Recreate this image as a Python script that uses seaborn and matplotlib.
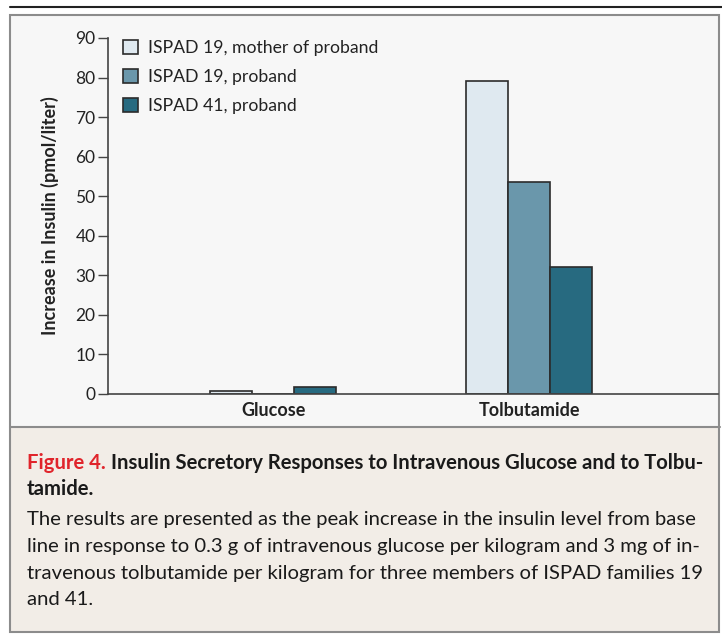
import numpy as np
import pandas as pd
import matplotlib
matplotlib.use('Agg')
import matplotlib.pyplot as plt
import seaborn as sns
from matplotlib.patches import Rectangle
from matplotlib.lines import Line2D

# Data
stimuli = ['Glucose', 'Tolbutamide']
subjects = ['ISPAD 19, mother of proband', 'ISPAD 19, proband', 'ISPAD 41, proband']
mother_19 = [0.8, 79.2]
proband_19 = [0.0, 53.6]
proband_41 = [1.8, 32.1]
colors = ['#dfe9f0', '#6a97ab', '#276a80']
yticks = [0, 10, 20, 30, 40, 50, 60, 70, 80, 90]

df = pd.DataFrame({
    'stimulus': stimuli * 3,
    'subject': [subjects[0]] * 2 + [subjects[1]] * 2 + [subjects[2]] * 2,
    'value': mother_19 + proband_19 + proband_41,
})

sns.set_style('white')
plt.rcParams['font.family'] = ['Lato', 'DejaVu Sans']

W, H = 722, 634
fig = plt.figure(figsize=(W / 100, H / 100), dpi=100)
fig.patch.set_facecolor('white')

# panel backgrounds
fig.patches.append(Rectangle((10 / W, (H - 427) / H), 710 / W, 412 / H,
                             transform=fig.transFigure, facecolor='#f7f7f7',
                             edgecolor='none', zorder=0))
fig.patches.append(Rectangle((10 / W, (H - 632) / H), 710 / W, 205 / H,
                             transform=fig.transFigure, facecolor='#f2ede7',
                             edgecolor='none', zorder=0))
fig.patches.append(Rectangle((10 / W, (H - 632) / H), 709 / W, 617 / H,
                             transform=fig.transFigure, facecolor='none',
                             edgecolor='#8c8c8c', linewidth=1.5, zorder=1))
fig.lines.append(Line2D([10 / W, 720 / W], [(H - 427) / H] * 2,
                        transform=fig.transFigure, color='#8c8c8c', linewidth=1.5))
fig.lines.append(Line2D([10 / W, 1.0], [(H - 7) / H] * 2,
                        transform=fig.transFigure, color='#222222', linewidth=1.5))

ax = fig.add_axes([108 / W, (H - 394) / H, (718 - 108) / W, (394 - 38) / H])
ax.set_facecolor('none')
ax.set_zorder(3)

sns.barplot(data=df, x='stimulus', y='value', hue='subject', hue_order=subjects,
            palette=colors, saturation=1, width=0.49, edgecolor='#2b2b2b',
            linewidth=1.2, errorbar=None, ax=ax)

ax.set_xlim(-0.645, 1.738)
ax.set_ylim(0, 90)
ax.set_yticks(yticks)
ax.tick_params(axis='y', direction='out', length=7, width=1, color='#444444',
               labelsize=12.5, labelcolor='#222222', pad=2, left=True)
ax.tick_params(axis='x', length=0, labelsize=13, pad=6)
for lab in ax.get_xticklabels():
    lab.set_fontweight('bold')
    lab.set_color('#222222')
ax.set_xlabel('')
ax.set_ylabel('Increase in Insulin (pmol/liter)', fontsize=13, fontweight='bold',
              color='#222222', labelpad=12)
for side in ['top', 'right']:
    ax.spines[side].set_visible(False)
for side in ['left', 'bottom']:
    ax.spines[side].set_color('#444444')
    ax.spines[side].set_linewidth(1.2)

leg = ax.legend(loc='upper left', bbox_to_anchor=((123 - 108) / 610, 0.994),
                frameon=False, fontsize=12.7, handlelength=0.85, handleheight=0.85,
                handletextpad=0.55, labelspacing=0.72, borderpad=0,
                borderaxespad=0)
for t in leg.get_texts():
    t.set_color('#222222')

# caption
cap_size = 14.6
fig.canvas.draw()
fig_label = fig.text(27 / W, (H - 463) / H, 'Figure 4.', color='#e0242b',
                     fontsize=cap_size, fontweight='bold', va='center', ha='left')
bb = fig_label.get_window_extent(renderer=fig.canvas.get_renderer())
fig.text((bb.x1 + 5) / W, (H - 463) / H,
         'Insulin Secretory Responses to Intravenous Glucose and to Tolbu-',
         color='#1a1a1a', fontsize=cap_size, fontweight='bold', va='center', ha='left')
fig.text(27 / W, (H - 489) / H, 'tamide.', color='#1a1a1a', fontsize=cap_size,
         fontweight='bold', va='center', ha='left')
body = [
    'The results are presented as the peak increase in the insulin level from base',
    'line in response to 0.3 g of intravenous glucose per kilogram and 3 mg of in-',
    'travenous tolbutamide per kilogram for three members of ISPAD families 19',
    'and 41.',
]
for i, line in enumerate(body):
    fig.text(27 / W, (H - 520 - 26.5 * i) / H, line, color='#1a1a1a',
             fontsize=cap_size, va='center', ha='left')

fig.savefig('out.png', dpi=100)
